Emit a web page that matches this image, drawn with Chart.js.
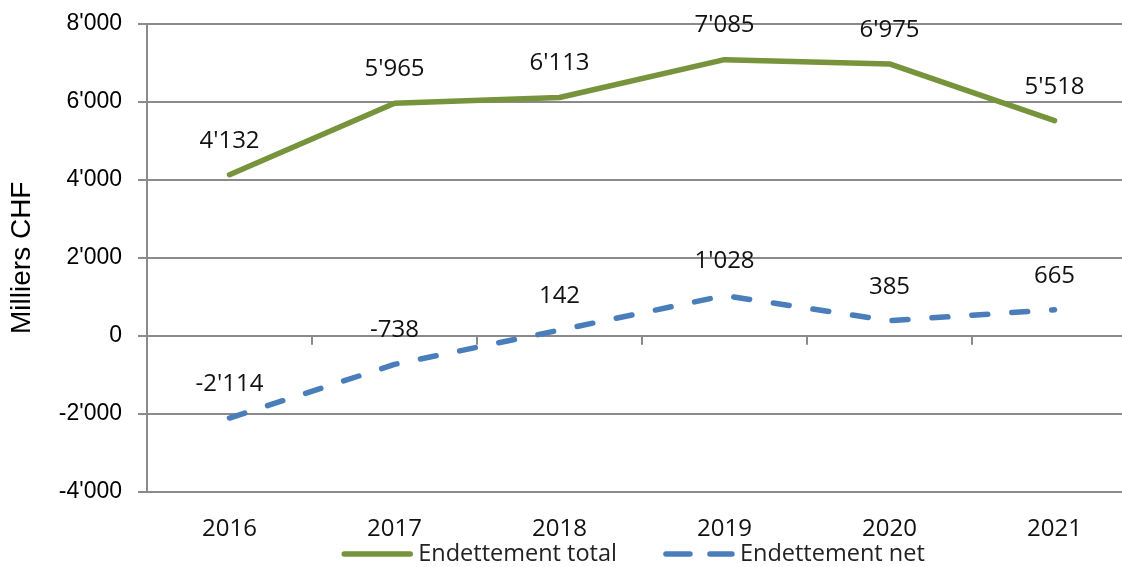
<!DOCTYPE html>
<html>
<head>
<meta charset="utf-8">
<script src="https://cdn.jsdelivr.net/npm/chart.js@4"></script>
<style>
    html, body { margin: 0; padding: 0; background: #fff; overflow: hidden; }
    #wrap { width: 1137px; height: 567px; }
</style>
</head>
<body>
<div id="wrap"><canvas id="chart" width="1137" height="567"></canvas></div>
<script>
// Chart data
const years = ["2016", "2017", "2018", "2019", "2020", "2021"];
const totalDebt = [4132, 5965, 6113, 7085, 6975, 5518];
const netDebt = [-2114, -738, 142, 1028, 385, 665];
const seriesLabels = ["Endettement total", "Endettement net"];
const yTicks = [-4000, -2000, 0, 2000, 4000, 6000, 8000];

const gridColor = "#8a8a8a";
const calibriLike = "'Open Sans', sans-serif";
const arialLike = "'Liberation Sans', Arial, sans-serif";

// 8000 -> 8'000
function swissFormat(value) {
    const sign = value < 0 ? "-" : "";
    return sign + Math.abs(value).toString().replace(/\B(?=(\d{3})+(?!\d))/g, "'");
}

// value labels above each point
const valueLabels = {
    id: "valueLabels",
    afterDatasetsDraw(chart) {
        const ctx = chart.ctx;
        ctx.save();
        ctx.font = "24px " + calibriLike;
        ctx.fillStyle = "#111";
        ctx.textAlign = "center";
        ctx.textBaseline = "middle";
        chart.data.datasets.forEach((ds, i) => {
            chart.getDatasetMeta(i).data.forEach((pt, j) => {
                ctx.fillText(swissFormat(ds.data[j]), pt.x, pt.y - 34);
            });
        });
        ctx.restore();
    }
};

// small tick marks on the zero line between categories (Excel style axis crossing)
const zeroTicks = {
    id: "zeroTicks",
    beforeDatasetsDraw(chart) {
        const x = chart.scales.x, y = chart.scales.y;
        const y0 = y.getPixelForValue(0);
        const half = (x.getPixelForValue(1) - x.getPixelForValue(0)) / 2;
        const ctx = chart.ctx;
        ctx.save();
        ctx.strokeStyle = gridColor;
        ctx.lineWidth = 2;
        ctx.beginPath();
        years.forEach((_, i) => {
            const px = Math.round(x.getPixelForValue(i) + half);
            ctx.moveTo(px, y0);
            ctx.lineTo(px, y0 + 9);
        });
        ctx.stroke();
        ctx.restore();
    }
};

// legend drawn under the axis labels
const lineLegend = {
    id: "lineLegend",
    afterDraw(chart) {
        const ctx = chart.ctx;
        const sample = 72, textGap = 5, itemGap = 46, centerX = 633, cy = 554;
        ctx.save();
        ctx.font = "23.5px " + calibriLike;
        const widths = chart.data.datasets.map(ds => sample + textGap + ctx.measureText(ds.label).width);
        const total = widths.reduce((a, b) => a + b, 0) + itemGap * (widths.length - 1);
        let x = centerX - total / 2;
        chart.data.datasets.forEach((ds, i) => {
            ctx.strokeStyle = ds.borderColor;
            ctx.lineWidth = ds.borderWidth;
            ctx.lineCap = "round";
            ctx.setLineDash(ds.borderDash ? [24, 20] : []);
            ctx.beginPath();
            ctx.moveTo(x + 3, cy);
            ctx.lineTo(x + sample - 3, cy);
            ctx.stroke();
            ctx.setLineDash([]);
            ctx.fillStyle = "#222";
            ctx.textAlign = "left";
            ctx.textBaseline = "middle";
            ctx.fillText(ds.label, x + sample + textGap, cy);
            x += widths[i] + itemGap;
        });
        ctx.restore();
    }
};

new Chart(document.getElementById("chart"), {
    type: "line",
    data: {
        labels: years,
        datasets: [
            {
                label: seriesLabels[0],
                data: totalDebt,
                borderColor: "#77933C",
                backgroundColor: "#77933C",
                borderWidth: 5.5,
                borderCapStyle: "round",
                borderJoinStyle: "round",
                pointRadius: 0,
                tension: 0
            },
            {
                label: seriesLabels[1],
                data: netDebt,
                borderColor: "#4A7EBB",
                backgroundColor: "#4A7EBB",
                borderWidth: 5.5,
                borderDash: [16, 24],
                borderCapStyle: "round",
                borderJoinStyle: "round",
                pointRadius: 0,
                tension: 0
            }
        ]
    },
    options: {
        responsive: false,
        animation: false,
        layout: { padding: { top: 24, right: 0, bottom: 30.5, left: 0 } },
        plugins: {
            legend: { display: false },
            tooltip: { enabled: false }
        },
        scales: {
            x: {
                offset: true,
                grid: { display: false, drawTicks: false },
                border: { display: false },
                ticks: {
                    color: "#111",
                    font: { family: calibriLike, size: 24 },
                    padding: 23,
                    maxRotation: 0
                },
                afterFit(scale) { scale.height = 45; }
            },
            y: {
                min: yTicks[0],
                max: yTicks[yTicks.length - 1],
                afterBuildTicks(scale) {
                    scale.ticks = yTicks.map(v => ({ value: v }));
                },
                grid: {
                    color: gridColor,
                    lineWidth: 2,
                    drawTicks: true,
                    tickLength: 9
                },
                border: { display: true, color: gridColor, width: 2 },
                ticks: {
                    color: "#000",
                    font: { family: arialLike, size: 23 },
                    padding: 16,
                    callback: v => swissFormat(v)
                },
                title: {
                    display: true,
                    text: "Milliers CHF",
                    color: "#000",
                    font: { family: arialLike, size: 28 },
                    padding: { top: 5, bottom: 0 }
                },
                afterFit(scale) {
                    scale.width = 147;
                    scale.paddingTop = 0;
                    scale.paddingBottom = 0;
                }
            }
        }
    },
    plugins: [valueLabels, zeroTicks, lineLegend]
});
</script>
</body>
</html>
